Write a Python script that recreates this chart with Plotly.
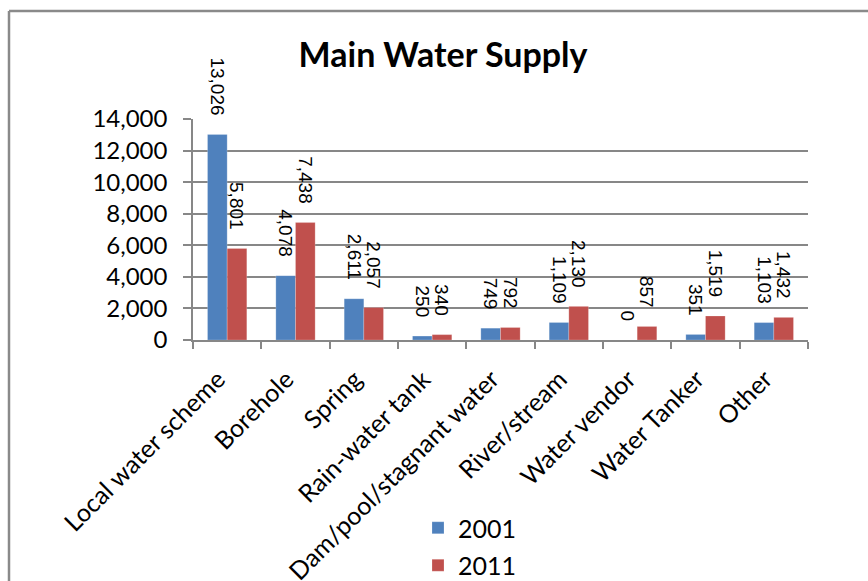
import plotly.graph_objects as go

# Main water supply by source, census years 2001 and 2011
sources = [
    "Local water scheme", "Borehole", "Spring", "Rain-water tank",
    "Dam/pool/stagnant water", "River/stream", "Water vendor",
    "Water Tanker", "Other",
]
households_2001 = [13026, 4078, 2611, 250, 749, 1109, 0, 351, 1103]
households_2011 = [5801, 7438, 2057, 340, 792, 2130, 857, 1519, 1432]
y_ticks = [0, 2000, 4000, 6000, 8000, 10000, 12000, 14000]

BLUE = "#4F81BD"
RED = "#C0504D"
GRID = "#878787"
NBSP = "\u00a0"


def labels(values):
    # trailing spaces keep the rotated value labels clear of the bar tops
    return [f"{v:,}{NBSP * 3}" for v in values]


fig = go.Figure()
for name, vals, color, grp in [
    ("2001", households_2001, BLUE, "a"),
    ("2011", households_2011, RED, "b"),
]:
    fig.add_trace(go.Bar(
        name=name, x=sources, y=vals, marker_color=color,
        marker_line=dict(color="rgba(255,255,255,0.35)", width=0.6),
        text=labels(vals), textposition="outside", textangle=90,
        textfont=dict(family="Liberation Sans", size=19, color="#000000"),
        constraintext="none", cliponaxis=False, legendgroup=grp,
    ))

W, H = 868, 581
L, R, T, B = 193, 60, 119, 241
PW, PH = W - L - R, H - T - B


def px_x(x):
    return (x - L) / PW


def px_y(y):
    return (H - B - y) / PH


fig.update_layout(
    width=W, height=H, autosize=False,
    margin=dict(l=L, r=R, t=T, b=B, pad=0, autoexpand=False),
    paper_bgcolor="white", plot_bgcolor="white",
    barmode="group", bargap=0.425, bargroupgap=0,
    font=dict(family="Lato", size=24, color="#000000"),
    title=dict(
        text="<b>Main Water Supply</b>", x=443 / W, xref="container",
        xanchor="center", y=1 - 55 / H, yref="container", yanchor="middle",
        font=dict(family="Lato", size=34, color="#000000"),
    ),
    showlegend=True,
    legend=dict(
        orientation="v", x=px_x(418), xanchor="left",
        y=px_y(505), yanchor="top",
        traceorder="grouped", tracegroupgap=2,
        font=dict(family="Lato", size=25), bgcolor="rgba(0,0,0,0)",
    ),
    xaxis=dict(
        tickangle=-45, showline=True, linecolor=GRID, linewidth=1.5,
        tickmode="array", tickvals=sources,
        ticktext=[s + NBSP * 2 for s in sources],
        ticks="outside", tickson="boundaries", ticklen=7, tickcolor=GRID,
        tickwidth=1.5, showgrid=False, automargin=False,
        ticklabelstandoff=4, tickfont=dict(family="Lato", size=25),
    ),
    yaxis=dict(
        range=[0, 14000], tickvals=y_ticks, tickformat=",",
        showline=True, linecolor=GRID, linewidth=1.5,
        showgrid=True, gridcolor=GRID, gridwidth=1.5, zeroline=False,
        ticks="outside", ticklen=8, tickcolor=GRID, tickwidth=1.5,
        ticklabelstandoff=11, automargin=False,
        tickfont=dict(family="Lato", size=24),
    ),
    shapes=[
        # chart frame (top and left edges)
        dict(type="line", xref="paper", yref="paper",
             x0=px_x(9), x1=px_x(W + 20), y0=px_y(11), y1=px_y(11),
             line=dict(color="#8A8A8A", width=2.5)),
        dict(type="line", xref="paper", yref="paper",
             x0=px_x(9), x1=px_x(9), y0=px_y(11), y1=px_y(H + 20),
             line=dict(color="#8A8A8A", width=2.5)),
    ],
)

fig.write_html("out.html")
